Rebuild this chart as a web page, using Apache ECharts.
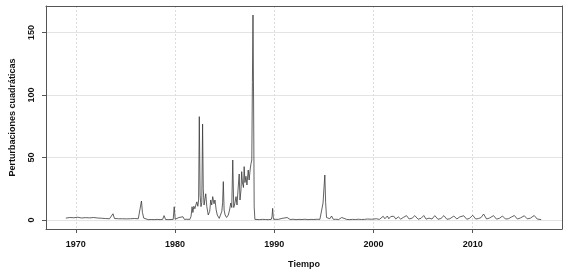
<!DOCTYPE html>
<html>
<head>
<meta charset="utf-8">
<script src="https://cdn.jsdelivr.net/npm/echarts@6/dist/echarts.min.js"></script>
<style>html,body{margin:0;padding:0;background:#fff}#c{width:568px;height:272px}</style>
</head>
<body>
<div id="c"></div>
<script>
// Decimal-year times and squared perturbation values
var times = [
 1969.0,1969.2,1969.4,1969.6,1969.8,1970.0,1970.2,1970.4,1970.6,1970.8,
 1971.0,1971.2,1971.4,1971.6,1971.8,1972.0,1972.2,1972.4,1972.6,1972.8,
 1973.0,1973.2,1973.4,1973.6,1973.75,1973.9,1974.1,1974.3,1974.5,1974.7,
 1974.9,1975.1,1975.3,1975.5,1975.7,1975.9,1976.1,1976.3,1976.5,1976.62,
 1976.72,1976.85,1977.0,1977.3,1977.6,1977.9,1978.2,1978.5,1978.75,1978.9,
 1979.05,1979.3,1979.6,1979.82,1979.92,1980.02,1980.2,1980.4,1980.55,1980.8,
 1980.95,1981.2,1981.5,1981.62,1981.72,1981.8,1981.9,1982.0,1982.1,1982.2,
 1982.3,1982.38,1982.45,1982.53,1982.62,1982.7,1982.78,1982.85,1982.93,1983.02,
 1983.1,1983.2,1983.35,1983.5,1983.6,1983.7,1983.8,1983.93,1984.03,1984.15,
 1984.26,1984.46,1984.6,1984.72,1984.8,1984.87,1984.95,1985.05,1985.2,1985.37,
 1985.5,1985.62,1985.72,1985.82,1985.92,1986.04,1986.15,1986.25,1986.35,1986.47,
 1986.55,1986.65,1986.72,1986.8,1986.9,1986.97,1987.05,1987.15,1987.25,1987.38,
 1987.47,1987.58,1987.66,1987.74,1987.8,1987.86,1987.92,1987.98,1988.05,1988.2,
 1988.5,1988.8,1989.1,1989.4,1989.7,1989.78,1989.84,1989.92,1990.1,1990.4,
 1990.6,1990.8,1991.0,1991.3,1991.6,1991.9,1992.2,1992.5,1992.8,1993.1,
 1993.4,1993.7,1994.0,1994.3,1994.6,1994.8,1994.92,1995.0,1995.1,1995.18,
 1995.27,1995.4,1995.6,1995.78,1995.95,1996.2,1996.5,1996.8,1997.0,1997.3,
 1997.6,1997.9,1998.2,1998.5,1998.8,1999.1,1999.4,1999.6,1999.8,2000.0,
 2000.3,2000.6,2000.8,2000.98,2001.15,2001.4,2001.55,2001.75,2001.9,2002.05,
 2002.25,2002.5,2002.75,2003.0,2003.33,2003.6,2003.9,2004.17,2004.5,2004.8,
 2005.07,2005.3,2005.6,2005.9,2006.18,2006.5,2006.8,2007.1,2007.4,2007.7,
 2008.1,2008.4,2008.7,2009.1,2009.4,2009.7,2010.0,2010.3,2010.6,2010.85,
 2011.1,2011.4,2011.7,2012.1,2012.4,2012.7,2013.0,2013.3,2013.6,2013.9,
 2014.2,2014.5,2014.8,2015.2,2015.5,2015.8,2016.2,2016.5,2016.9
];
var perturbaciones = [
 1.5,1.0,2.0,0.8,1.8,1.2,2.2,0.9,1.6,1.0,
 1.9,0.8,1.7,1.1,2.0,1.2,1.6,0.9,1.4,0.6,
 1.2,0.5,1.0,0.8,5.0,1.2,0.6,1.0,0.4,1.0,
 0.5,0.9,0.5,1.0,0.6,1.2,0.7,1.0,1.5,15.2,
 6.0,1.5,0.5,0.3,0.4,0.3,0.5,0.3,0.5,3.5,
 0.4,0.3,0.4,0.5,10.6,0.6,0.5,2.0,0.6,2.6,
 0.5,0.6,0.5,3.0,10.6,6.0,11.0,9.0,12.0,14.5,
 11.0,16.0,82.7,20.0,10.7,14.0,76.8,25.0,12.0,10.7,
 21.0,11.0,4.0,7.0,16.0,12.0,18.7,13.0,16.0,8.0,
 4.0,1.3,2.7,7.0,14.0,30.7,8.0,4.0,2.0,4.0,
 8.0,13.6,10.0,48.0,10.0,13.6,18.7,12.0,24.0,36.8,
 16.0,24.0,38.7,29.6,26.0,42.7,30.0,35.0,28.0,40.0,
 32.0,40.8,45.0,48.0,110.0,164.0,96.0,10.6,0.5,0.4,
 0.3,0.5,0.4,0.3,0.5,3.0,9.3,0.6,0.4,0.5,
 0.3,1.3,0.5,2.0,0.4,0.6,0.3,0.5,0.4,0.6,
 0.3,0.5,0.4,0.6,0.5,1.5,13.6,24.0,36.0,14.0,
 2.0,0.5,1.0,3.2,0.5,0.6,0.4,2.0,0.4,0.5,
 0.3,0.5,0.4,0.6,0.4,0.5,0.8,1.3,0.6,0.5,
 1.0,0.5,1.2,3.0,1.0,3.2,1.0,2.8,1.2,3.0,
 0.8,2.5,0.7,2.0,3.5,0.8,1.5,3.5,0.6,1.4,
 3.6,0.7,1.5,0.8,3.5,0.6,1.2,3.5,0.6,1.0,
 3.2,0.8,2.5,3.4,0.6,1.4,3.8,0.8,1.2,2.0,
 4.8,0.8,1.6,3.5,0.7,1.4,3.2,0.8,1.0,2.4,
 3.6,0.8,1.6,3.4,0.9,1.4,3.6,0.8,0.3
];
var xTicks = [1970, 1980, 1990, 2000, 2010];
var yTicks = [0, 50, 100, 150];

var seriesData = times.map(function (t, i) { return [t, perturbaciones[i]]; });
var font = "'Liberation Sans', Arial, sans-serif";
var boxLine = {show: true, onZero: false, lineStyle: {color: '#555', width: 1}};

var chart = echarts.init(document.getElementById('c'), null, {renderer: 'canvas'});
chart.setOption({
  animation: false,
  backgroundColor: '#ffffff',
  grid: {left: 46, right: 6, top: 6, bottom: 43, containLabel: false, outerBoundsMode: 'none'},
  xAxis: [{
    type: 'value', min: 1967, max: 2019, position: 'bottom',
    name: 'Tiempo', nameLocation: 'middle', nameGap: 31,
    nameTextStyle: {fontFamily: font, fontSize: 9, fontWeight: 'bold', color: '#111'},
    axisLine: boxLine,
    axisTick: {show: true, length: 4, customValues: xTicks, lineStyle: {color: '#555'}},
    axisLabel: {customValues: xTicks, margin: 11, fontFamily: font, fontSize: 9, fontWeight: 'bold', color: '#111',
      formatter: function (v) { return String(Math.round(v)); }},
    splitLine: {show: true, lineStyle: {color: '#dcdcdc', type: [2, 2], width: 1}}
  }, {
    type: 'value', min: 1967, max: 2019, position: 'top',
    axisLine: boxLine, axisTick: {show: false}, axisLabel: {show: false}, splitLine: {show: false}
  }],
  yAxis: [{
    type: 'value', min: -7.2, max: 171.2, position: 'left',
    name: 'Perturbaciones cuadráticas', nameLocation: 'middle', nameGap: 29,
    nameTextStyle: {fontFamily: font, fontSize: 9, fontWeight: 'bold', color: '#111'},
    axisLine: boxLine,
    axisTick: {show: true, length: 4, customValues: yTicks, lineStyle: {color: '#555'}},
    axisLabel: {customValues: yTicks, rotate: 90, margin: 10, fontFamily: font, fontSize: 9, fontWeight: 'bold', color: '#111',
      formatter: function (v) { return String(Math.round(v)); }},
    splitLine: {show: true, lineStyle: {color: '#e4e4e4', type: 'solid', width: 1}}
  }, {
    type: 'value', min: -7.2, max: 171.2, position: 'right',
    axisLine: boxLine, axisTick: {show: false}, axisLabel: {show: false}, splitLine: {show: false}
  }],
  series: [{
    type: 'line', data: seriesData, showSymbol: false, symbol: 'none',
    xAxisIndex: 0, yAxisIndex: 0,
    lineStyle: {color: '#3a3a3a', width: 0.8}, silent: true
  }]
});
</script>
</body>
</html>
